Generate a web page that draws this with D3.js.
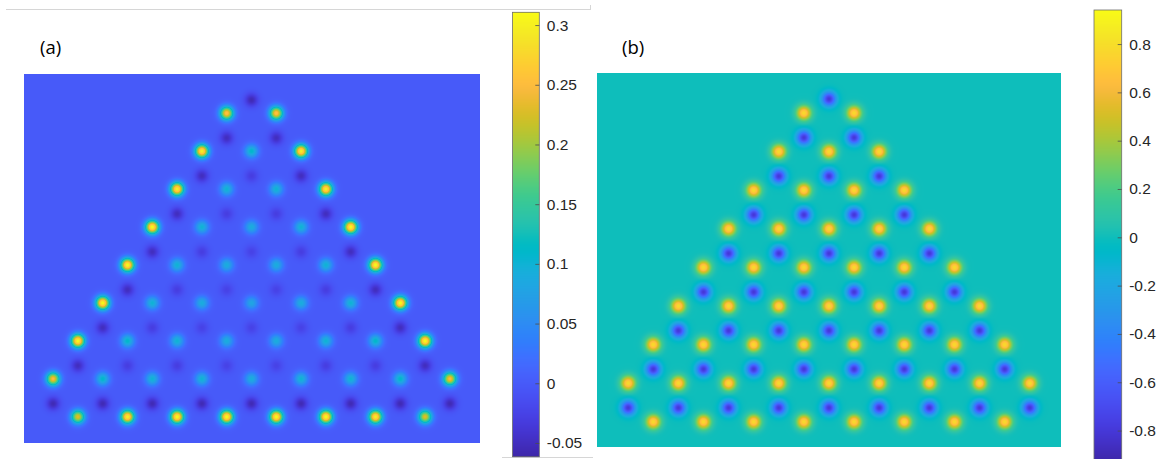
<!DOCTYPE html>
<html>
<head>
<meta charset="utf-8">
<script src="https://cdn.jsdelivr.net/npm/d3@7"></script>
<style>
  html, body { margin: 0; padding: 0; background: #fff; }
  svg { display: block; }
</style>
</head>
<body>
<svg id="fig" width="1159" height="459"></svg>
<script>
// MATLAB parula colormap (64 entries)
const parula = [
  [0.2422,0.1504,0.6603],[0.2504,0.1650,0.7076],[0.2578,0.1818,0.7511],[0.2647,0.1978,0.7952],
  [0.2706,0.2147,0.8364],[0.2751,0.2342,0.8710],[0.2783,0.2559,0.8991],[0.2803,0.2782,0.9221],
  [0.2813,0.3006,0.9414],[0.2810,0.3228,0.9579],[0.2795,0.3447,0.9717],[0.2760,0.3667,0.9829],
  [0.2699,0.3892,0.9906],[0.2602,0.4123,0.9952],[0.2440,0.4358,0.9988],[0.2206,0.4603,0.9973],
  [0.1963,0.4847,0.9892],[0.1834,0.5074,0.9798],[0.1786,0.5289,0.9682],[0.1764,0.5499,0.9520],
  [0.1687,0.5703,0.9359],[0.1540,0.5902,0.9218],[0.1460,0.6091,0.9079],[0.1380,0.6276,0.8973],
  [0.1248,0.6459,0.8883],[0.1113,0.6635,0.8763],[0.0952,0.6798,0.8598],[0.0689,0.6948,0.8394],
  [0.0297,0.7082,0.8163],[0.0036,0.7203,0.7917],[0.0067,0.7312,0.7660],[0.0433,0.7411,0.7394],
  [0.0964,0.7500,0.7120],[0.1408,0.7584,0.6842],[0.1717,0.7670,0.6554],[0.1938,0.7758,0.6251],
  [0.2161,0.7843,0.5923],[0.2470,0.7918,0.5567],[0.2906,0.7973,0.5188],[0.3406,0.8008,0.4789],
  [0.3909,0.8029,0.4354],[0.4456,0.8024,0.3909],[0.5044,0.7993,0.3480],[0.5616,0.7942,0.3045],
  [0.6174,0.7876,0.2612],[0.6720,0.7793,0.2227],[0.7242,0.7698,0.1910],[0.7738,0.7598,0.1646],
  [0.8203,0.7498,0.1535],[0.8634,0.7406,0.1596],[0.9035,0.7330,0.1774],[0.9393,0.7288,0.2100],
  [0.9728,0.7298,0.2394],[0.9956,0.7434,0.2371],[0.9970,0.7659,0.2199],[0.9952,0.7893,0.2028],
  [0.9892,0.8136,0.1885],[0.9786,0.8386,0.1766],[0.9676,0.8639,0.1643],[0.9610,0.8890,0.1537],
  [0.9597,0.9135,0.1423],[0.9628,0.9373,0.1265],[0.9691,0.9606,0.1064],[0.9769,0.9839,0.0805]
];

// Panel (a): spin density on the A sublattice, one array per row, top to bottom
const momentsA_a = [
  [0.26, 0.26],
  [0.30, 0.11, 0.30],
  [0.30, 0.10, 0.10, 0.30],
  [0.31, 0.10, 0.09, 0.10, 0.31],
  [0.31, 0.10, 0.09, 0.09, 0.10, 0.31],
  [0.31, 0.10, 0.09, 0.08, 0.09, 0.10, 0.31],
  [0.31, 0.11, 0.10, 0.09, 0.09, 0.10, 0.11, 0.31],
  [0.25, 0.11, 0.10, 0.10, 0.09, 0.10, 0.10, 0.11, 0.25],
  [0.23, 0.30, 0.31, 0.31, 0.31, 0.31, 0.30, 0.23]
];
// Panel (a): spin density on the B sublattice
const momentsB_a = [
  [-0.055],
  [-0.05, -0.05],
  [-0.05, -0.03, -0.05],
  [-0.05, -0.03, -0.03, -0.05],
  [-0.05, -0.03, -0.025, -0.03, -0.05],
  [-0.05, -0.03, -0.025, -0.025, -0.03, -0.05],
  [-0.05, -0.03, -0.025, -0.025, -0.025, -0.03, -0.05],
  [-0.05, -0.03, -0.03, -0.025, -0.025, -0.03, -0.03, -0.05],
  [-0.055, -0.055, -0.055, -0.055, -0.055, -0.055, -0.055, -0.055, -0.055]
];
// Panel (b): A sublattice
const momentsA_b = [
  [0.78, 0.78],
  [0.78, 0.78, 0.78],
  [0.78, 0.78, 0.78, 0.78],
  [0.78, 0.78, 0.78, 0.78, 0.78],
  [0.78, 0.78, 0.78, 0.78, 0.78, 0.78],
  [0.78, 0.78, 0.78, 0.78, 0.78, 0.78, 0.78],
  [0.78, 0.78, 0.78, 0.78, 0.78, 0.78, 0.78, 0.78],
  [0.78, 0.78, 0.78, 0.78, 0.78, 0.78, 0.78, 0.78, 0.78],
  [0.78, 0.78, 0.78, 0.78, 0.78, 0.78, 0.78, 0.78]
];
// Panel (b): B sublattice
const momentsB_b = [
  [-0.80],
  [-0.80, -0.80],
  [-0.80, -0.80, -0.80],
  [-0.80, -0.80, -0.80, -0.80],
  [-0.80, -0.80, -0.80, -0.80, -0.80],
  [-0.80, -0.80, -0.80, -0.80, -0.80, -0.80],
  [-0.80, -0.80, -0.80, -0.80, -0.80, -0.80, -0.80],
  [-0.80, -0.80, -0.80, -0.80, -0.80, -0.80, -0.80, -0.80],
  [-0.80, -0.80, -0.80, -0.80, -0.80, -0.80, -0.80, -0.80, -0.80]
];

const colorRange_a = [-0.0615, 0.3107];
const colorRange_b = [-0.926, 0.941];
const ticks_a = [-0.05, 0, 0.05, 0.1, 0.15, 0.2, 0.25, 0.3];
const ticks_b = [-0.8, -0.6, -0.4, -0.2, 0, 0.2, 0.4, 0.6, 0.8];
const panelLabels = ["(a)", "(b)"];

// ---------------------------------------------------------------
const interpolateParula = t => {
  t = Math.max(0, Math.min(1, t));
  const f = t * (parula.length - 1);
  const i = Math.min(parula.length - 2, Math.floor(f));
  const w = f - i;
  const a = parula[i], b = parula[i + 1];
  return [0, 1, 2].map(k => Math.round(255 * (a[k] + (b[k] - a[k]) * w)));
};
const parulaCss = t => { const c = interpolateParula(t); return `rgb(${c[0]},${c[1]},${c[2]})`; };

const svg = d3.select("#fig");

// thin frame lines
svg.append("line").attr("x1", 6).attr("x2", 591).attr("y1", 9.5).attr("y2", 9.5)
  .attr("stroke", "#d6d6d6").attr("stroke-width", 1);
svg.append("line").attr("x1", 590.5).attr("x2", 590.5).attr("y1", 5).attr("y2", 9.5)
  .attr("stroke", "#d6d6d6").attr("stroke-width", 1);
svg.append("line").attr("x1", 502).attr("x2", 593).attr("y1", 457.5).attr("y2", 457.5)
  .attr("stroke", "#d6d6d6").attr("stroke-width", 1);

// Honeycomb site list: every row is centred; A rows sit a fraction of a row below the B row
function buildSites(momA, momB, offset) {
  const sites = [];
  momB.forEach((row, k) => row.forEach((m, j) =>
    sites.push({ u: j - (row.length - 1) / 2, r: k, m })));
  momA.forEach((row, k) => row.forEach((m, j) =>
    sites.push({ u: j - (row.length - 1) / 2, r: k + offset, m })));
  return sites;
}

function drawPanel(cfg) {
  const g = svg.append("g");
  const x = d3.scaleLinear().domain([0, 1]).range([cfg.cx, cfg.cx + cfg.dx]);
  const y = d3.scaleLinear().domain([0, 8]).range([cfg.yTop, cfg.yBottom]);
  const color = d3.scaleSequential(interpolateParula).domain(cfg.range);
  const sites = buildSites(cfg.momA, cfg.momB, cfg.offset)
    .map(s => ({ px: x(s.u), py: y(s.r), m: s.m }));

  const [x0, y0, x1, y1] = cfg.box;
  const W = Math.round(x1 - x0), H = Math.round(y1 - y0);
  const canvas = document.createElement("canvas");
  canvas.width = W; canvas.height = H;
  const ctx = canvas.getContext("2d");
  const img = ctx.createImageData(W, H);
  const s2 = 2 * cfg.sigma * cfg.sigma;
  const cut = (4 * cfg.sigma) ** 2;
  for (let j = 0; j < H; j++) {
    const py = y0 + j + 0.5;
    for (let i = 0; i < W; i++) {
      const px = x0 + i + 0.5;
      let v = 0;
      for (const s of sites) {
        const dx = px - s.px, dy = py - s.py;
        const d2 = dx * dx + dy * dy;
        if (d2 < cut) v += s.m * Math.exp(-d2 / s2);
      }
      const c = color(v);
      const o = 4 * (j * W + i);
      img.data[o] = c[0]; img.data[o + 1] = c[1]; img.data[o + 2] = c[2]; img.data[o + 3] = 255;
    }
  }
  ctx.putImageData(img, 0, 0);
  g.append("image").attr("x", x0).attr("y", y0).attr("width", W).attr("height", H)
    .attr("preserveAspectRatio", "none")
    .attr("href", canvas.toDataURL());

  // colour bar
  const cb = cfg.cbar;
  const cy = d3.scaleLinear().domain(cfg.range).range([cb.bottom, cb.top]);
  const rows = d3.range(Math.floor(cb.top), Math.ceil(cb.bottom));
  g.append("g").selectAll("rect").data(rows).join("rect")
    .attr("x", cb.left).attr("width", cb.right - cb.left)
    .attr("y", d => d).attr("height", 1.05)
    .attr("fill", d => parulaCss((cy.invert(d + 0.5) - cfg.range[0]) / (cfg.range[1] - cfg.range[0])));
  g.append("rect").attr("x", cb.left).attr("y", cb.top)
    .attr("width", cb.right - cb.left).attr("height", cb.bottom - cb.top)
    .attr("fill", "none").attr("stroke", "#6e6e6e").attr("stroke-width", 0.8);
  const axis = d3.axisRight(cy).tickValues(cfg.ticks).tickSize(-4).tickPadding(7.5)
    .tickFormat(d => String(d));
  const ax = g.append("g").attr("transform", `translate(${cb.right},0)`).call(axis);
  ax.select(".domain").remove();
  ax.selectAll(".tick line").attr("stroke", "#4d4d4d").attr("stroke-width", 0.8);
  ax.selectAll(".tick text").attr("fill", "#262626")
    .style("font-family", "'Liberation Sans', Arial, sans-serif").style("font-size", "15.5px");

  g.append("text").attr("x", cfg.label.x).attr("y", cfg.label.y).text(cfg.label.text)
    .attr("fill", "#000").style("font-family", "'Open Sans', 'Liberation Sans', sans-serif")
    .style("font-size", "18.5px");
}

drawPanel({
  momA: momentsA_a, momB: momentsB_a, range: colorRange_a, ticks: ticks_a,
  cx: 251.5, dx: 49.6, yTop: 100, yBottom: 403.6, offset: 0.348, sigma: 4.7,
  box: [24, 74, 480, 442.5],
  cbar: { left: 512.5, right: 539.3, top: 12.3, bottom: 456.7 },
  label: { x: 40, y: 54, text: panelLabels[0] }
});
drawPanel({
  momA: momentsA_b, momB: momentsB_b, range: colorRange_b, ticks: ticks_b,
  cx: 829, dx: 50.2, yTop: 99, yBottom: 407.8, offset: 0.363, sigma: 5.0,
  box: [597, 73, 1061, 447],
  cbar: { left: 1094, right: 1121.7, top: 10, bottom: 461 },
  label: { x: 622, y: 54, text: panelLabels[1] }
});
</script>
</body>
</html>
